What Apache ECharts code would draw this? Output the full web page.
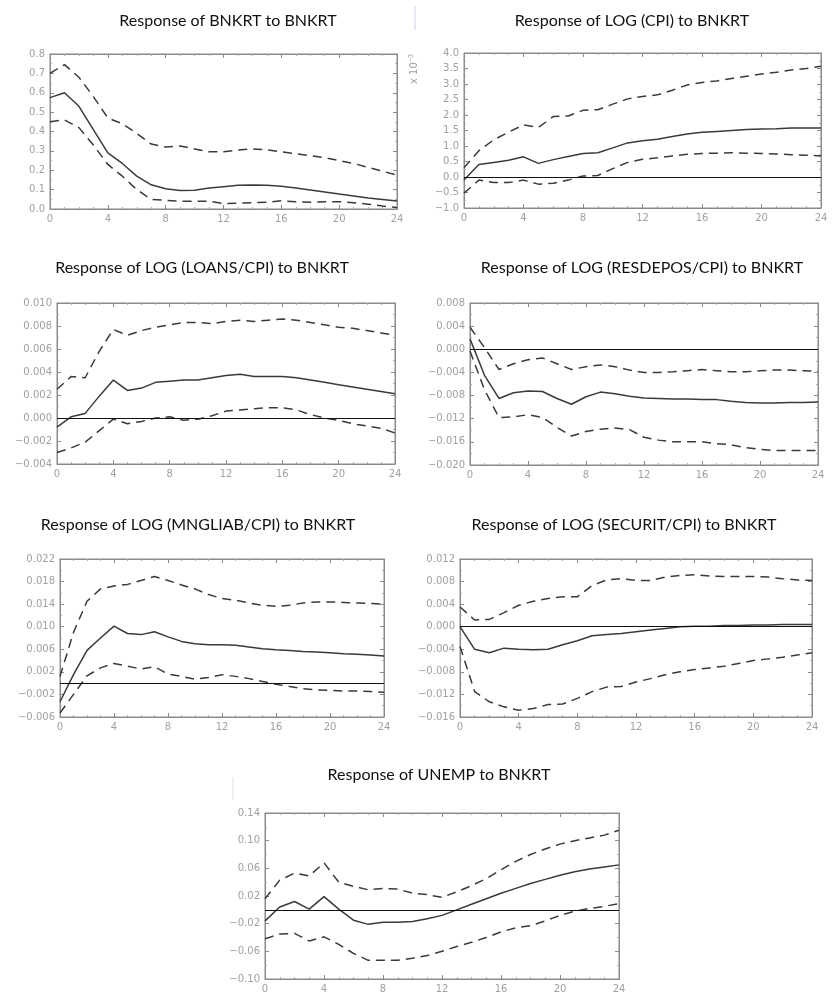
<!DOCTYPE html>
<html><head><meta charset="utf-8">
<script src="https://cdn.jsdelivr.net/npm/echarts@6/dist/echarts.min.js"></script>
<style>html,body{margin:0;padding:0;background:#fff}#c{width:836px;height:994px}</style>
</head><body><div id="c"></div>
<script>
const horizon = [0,1,2,3,4,5,6,7,8,9,10,11,12,13,14,15,16,17,18,19,20,21,22,23,24];
const xTicks = [0,4,8,12,16,20,24];

const titles = [
  "Response of BNKRT to BNKRT",
  "Response of LOG (CPI) to BNKRT",
  "Response of LOG (LOANS/CPI) to BNKRT",
  "Response of LOG (RESDEPOS/CPI) to BNKRT",
  "Response of LOG (MNGLIAB/CPI) to BNKRT",
  "Response of LOG (SECURIT/CPI) to BNKRT",
  "Response of UNEMP to BNKRT"
];

// y-axis ranges
const yMins  = [0, -1.0, -0.004, -0.020, -0.006, -0.016, -0.10];
const yMaxs  = [0.8, 4.0, 0.010, 0.008, 0.022, 0.012, 0.14];
const ySteps = [0.1, 0.5, 0.002, 0.004, 0.004, 0.004, 0.04];
const yDecimals = [1, 1, 3, 3, 3, 3, 2];
const zeroLine = [false, true, true, true, true, true, true];

// Panel 1: BNKRT
const bnkrtMid = [0.575,0.60,0.53,0.41,0.29,0.235,0.17,0.125,0.105,0.095,0.097,0.108,0.115,0.122,0.124,0.122,0.117,0.108,0.098,0.088,0.077,0.067,0.057,0.049,0.041];
const bnkrtUp  = [0.70,0.745,0.68,0.58,0.47,0.44,0.39,0.335,0.32,0.325,0.31,0.295,0.295,0.305,0.31,0.305,0.295,0.285,0.275,0.265,0.25,0.235,0.215,0.195,0.175];
const bnkrtLo  = [0.45,0.46,0.42,0.33,0.23,0.17,0.10,0.05,0.045,0.04,0.04,0.04,0.028,0.03,0.032,0.035,0.042,0.038,0.035,0.038,0.038,0.032,0.025,0.015,0.008];

// Panel 2: LOG(CPI), in units of 10^-3
const cpiMid = [-0.1,0.4,0.47,0.54,0.65,0.44,0.56,0.66,0.76,0.78,0.94,1.1,1.17,1.22,1.31,1.39,1.44,1.47,1.5,1.53,1.55,1.56,1.58,1.58,1.58];
const cpiUp  = [0.3,0.85,1.2,1.45,1.68,1.6,1.95,1.97,2.15,2.17,2.35,2.52,2.6,2.65,2.8,2.97,3.05,3.1,3.18,3.25,3.32,3.38,3.45,3.5,3.57];
const cpiLo  = [-0.52,-0.1,-0.18,-0.18,-0.1,-0.23,-0.2,-0.1,0.03,0.05,0.27,0.47,0.57,0.62,0.68,0.73,0.76,0.77,0.78,0.77,0.76,0.74,0.72,0.7,0.68];

// Panel 3: LOG(LOANS/CPI)
const loansMid = [-0.0008,0.0001,0.0004,0.0019,0.0033,0.0024,0.0026,0.0031,0.0032,0.0033,0.0033,0.0035,0.0037,0.0038,0.0036,0.0036,0.0036,0.0035,0.0033,0.0031,0.0029,0.0027,0.0025,0.0023,0.0021];
const loansUp  = [0.0025,0.0036,0.0035,0.0058,0.0077,0.0072,0.0076,0.0079,0.0081,0.0083,0.0083,0.0082,0.0084,0.0085,0.0084,0.0085,0.0086,0.0085,0.0083,0.0081,0.0079,0.0078,0.0076,0.0074,0.0072];
const loansLo  = [-0.003,-0.0026,-0.0021,-0.0011,-0.0001,-0.0005,-0.0003,0.0,0.0001,-0.0002,-0.0001,0.0002,0.0006,0.0007,0.0008,0.0009,0.0009,0.0007,0.0003,0.0,-0.0002,-0.0005,-0.0007,-0.0009,-0.0013];

// Panel 4: LOG(RESDEPOS/CPI)
const resdMid = [0.0018,-0.0045,-0.0085,-0.0075,-0.0072,-0.0073,-0.0085,-0.0095,-0.0082,-0.0074,-0.0077,-0.0081,-0.0084,-0.0085,-0.0086,-0.0086,-0.0087,-0.0087,-0.009,-0.0092,-0.0093,-0.0093,-0.0092,-0.0092,-0.0091];
const resdUp  = [0.0038,0.0003,-0.0035,-0.0025,-0.0018,-0.0015,-0.0025,-0.0035,-0.003,-0.0027,-0.003,-0.0036,-0.004,-0.004,-0.0039,-0.0037,-0.0035,-0.0037,-0.0039,-0.0039,-0.0037,-0.0036,-0.0036,-0.0037,-0.0038];
const resdLo  = [-0.0003,-0.007,-0.0118,-0.0117,-0.0113,-0.0118,-0.0135,-0.015,-0.0142,-0.0138,-0.0136,-0.0139,-0.0152,-0.0157,-0.016,-0.016,-0.016,-0.0163,-0.0165,-0.017,-0.0173,-0.0175,-0.0175,-0.0175,-0.0175];

// Panel 5: LOG(MNGLIAB/CPI)
const mngMid = [-0.0033,0.0015,0.0058,0.008,0.0101,0.0088,0.0086,0.0091,0.0082,0.0074,0.007,0.0068,0.0068,0.0067,0.0064,0.0061,0.0059,0.0058,0.0056,0.0055,0.0054,0.0052,0.0051,0.005,0.0048];
const mngUp  = [0.0012,0.009,0.0145,0.0167,0.0172,0.0175,0.0182,0.0189,0.0182,0.0174,0.0167,0.0157,0.015,0.0147,0.0142,0.0138,0.0136,0.0138,0.0142,0.0144,0.0144,0.0143,0.0142,0.0141,0.014];
const mngLo  = [-0.0053,-0.002,0.0013,0.0027,0.0035,0.003,0.0025,0.0029,0.0016,0.0012,0.0007,0.001,0.0015,0.0012,0.0008,0.0003,-0.0002,-0.0006,-0.001,-0.0012,-0.0013,-0.0014,-0.0014,-0.0015,-0.0016];

// Panel 6: LOG(SECURIT/CPI)
const secMid = [0.0,-0.004,-0.0046,-0.0038,-0.004,-0.0041,-0.004,-0.0032,-0.0025,-0.0016,-0.0014,-0.0012,-0.0009,-0.0006,-0.0003,0.0,0.0001,0.0001,0.0002,0.0002,0.0003,0.0003,0.0004,0.0004,0.0004];
const secUp  = [0.0035,0.0012,0.0013,0.0025,0.0038,0.0045,0.005,0.0053,0.0053,0.0073,0.0083,0.0085,0.0082,0.0082,0.0088,0.0091,0.0092,0.009,0.0089,0.0089,0.0089,0.0088,0.0085,0.0083,0.0082];
const secLo  = [-0.0035,-0.0115,-0.0133,-0.0142,-0.0148,-0.0145,-0.0138,-0.0137,-0.0127,-0.0115,-0.0107,-0.0106,-0.0098,-0.0092,-0.0085,-0.008,-0.0076,-0.0073,-0.007,-0.0065,-0.006,-0.0057,-0.0054,-0.005,-0.0046];

// Panel 7: UNEMP
const unMid = [-0.016,0.004,0.012,0.001,0.019,0.001,-0.015,-0.021,-0.018,-0.018,-0.017,-0.013,-0.008,0.0,0.008,0.016,0.024,0.031,0.038,0.044,0.05,0.055,0.059,0.062,0.065];
const unUp  = [0.016,0.043,0.053,0.049,0.068,0.04,0.034,0.029,0.031,0.03,0.024,0.022,0.018,0.026,0.035,0.045,0.058,0.07,0.08,0.088,0.095,0.1,0.104,0.108,0.115];
const unLo  = [-0.042,-0.035,-0.034,-0.045,-0.039,-0.05,-0.063,-0.073,-0.073,-0.073,-0.07,-0.066,-0.06,-0.053,-0.047,-0.04,-0.032,-0.026,-0.023,-0.016,-0.008,-0.002,0.002,0.005,0.009];

const mids = [bnkrtMid, cpiMid, loansMid, resdMid, mngMid, secMid, unMid];
const ups  = [bnkrtUp, cpiUp, loansUp, resdUp, mngUp, secUp, unUp];
const los  = [bnkrtLo, cpiLo, loansLo, resdLo, mngLo, secLo, unLo];

// layout (pixels): left, right, top, bottom of each plot box; title position
const boxes = [
  {l:50, r:397, t:54, b:209, tx:228, ty:21},
  {l:464, r:821, t:53, b:208, tx:632, ty:21},
  {l:57, r:395, t:303, b:464, tx:202, ty:268},
  {l:470, r:818, t:303, b:465, tx:642, ty:268},
  {l:60, r:384, t:559, b:717, tx:198, ty:525},
  {l:460, r:812, t:559, b:717, tx:624, ty:525},
  {l:265, r:619, t:813, b:981, tx:439, ty:775}
];

const LBL = {color:'#a0a0a0', fontSize:10, fontFamily:'DejaVu Sans'};
const LINE = '#3a3a3a';

const grid=[], xAxis=[], yAxis=[], series=[], graphic=[];
boxes.forEach((bx,i)=>{
  grid.push({left:bx.l, top:bx.t, width:bx.r-bx.l, height:bx.b-bx.t, show:true, borderColor:'#8a8a8a', borderWidth:1, backgroundColor:'#fff'});
  const dec = yDecimals[i];
  const axisLine = {show:true, onZero:false, lineStyle:{color:'#8a8a8a', width:1}};
  const tick = {show:true, inside:true, length:4, lineStyle:{color:'#8a8a8a'}};
  const minor = n => ({show:true, splitNumber:n, length:2, lineStyle:{color:'#aaa'}});
  xAxis.push({gridIndex:i, type:'value', min:0, max:24, interval:4, position:'bottom',
    axisLine, axisTick:tick, minorTick:minor(4),
    axisLabel:{...LBL, margin:5, formatter:v=>String(v)}, splitLine:{show:false}});
  xAxis.push({gridIndex:i, type:'value', min:0, max:24, interval:4, position:'top',
    axisLine, axisTick:tick, minorTick:minor(4),
    axisLabel:{show:false}, splitLine:{show:false}});
  yAxis.push({gridIndex:i, type:'value', min:yMins[i], max:yMaxs[i], interval:ySteps[i], position:'left',
    axisLine, axisTick:tick, minorTick:minor(2),
    axisLabel:{...LBL, margin:5, formatter:v=>v.toFixed(dec).replace('-','\u2212').replace(/^\u22120(\.0+)$/,'0$1')}, splitLine:{show:false}});
  yAxis.push({gridIndex:i, type:'value', min:yMins[i], max:yMaxs[i], interval:ySteps[i], position:'right',
    axisLine, axisTick:tick, minorTick:minor(2),
    axisLabel:{show:false}, splitLine:{show:false}});
  const mk = arr => horizon.map((h,k)=>[h, arr[k]]);
  const solid = {type:'line', xAxisIndex:2*i, yAxisIndex:2*i, data:mk(mids[i]), symbol:'none', z:4,
    lineStyle:{color:LINE, width:1.5}, animation:false, silent:true};
  if (zeroLine[i]) {
    solid.markLine = {silent:true, symbol:['none','none'], label:{show:false}, animation:false,
      lineStyle:{color:'#111', type:'solid', width:1.2}, data:[{yAxis:0}]};
  }
  series.push(solid);
  [ups[i], los[i]].forEach(arr=>{
    series.push({type:'line', xAxisIndex:2*i, yAxisIndex:2*i, data:mk(arr), symbol:'none', z:3,
      lineStyle:{color:LINE, width:1.5, type:[9,6]}, animation:false, silent:true});
  });
  graphic.push({type:'text', x:bx.tx, y:bx.ty, style:{text:titles[i], fill:'#111', font:'16px Lato', textAlign:'center', textVerticalAlign:'middle'}});
});
// "x 10^-3" scale note for panel 2
graphic.push({type:'text', x:414, y:84, rotation:Math.PI/2,
  style:{text:'x 10{s|\u22123}', fill:'#a0a0a0', font:'10px DejaVu Sans', textAlign:'left', textVerticalAlign:'middle',
    rich:{s:{fontSize:7, fill:'#a0a0a0', verticalAlign:'top', padding:[0,0,6,0]}}}});
// separator marks present in the source image
graphic.push({type:'line', shape:{x1:415, y1:6, x2:415, y2:30}, style:{stroke:'#c8d0e0', lineWidth:1}});
graphic.push({type:'line', shape:{x1:233, y1:777, x2:233, y2:800}, style:{stroke:'#e0e0e0', lineWidth:1}});

const chart = echarts.init(document.getElementById('c'), null, {renderer:'canvas'});
chart.setOption({animation:false, grid, xAxis, yAxis, series, graphic});
</script></body></html>
